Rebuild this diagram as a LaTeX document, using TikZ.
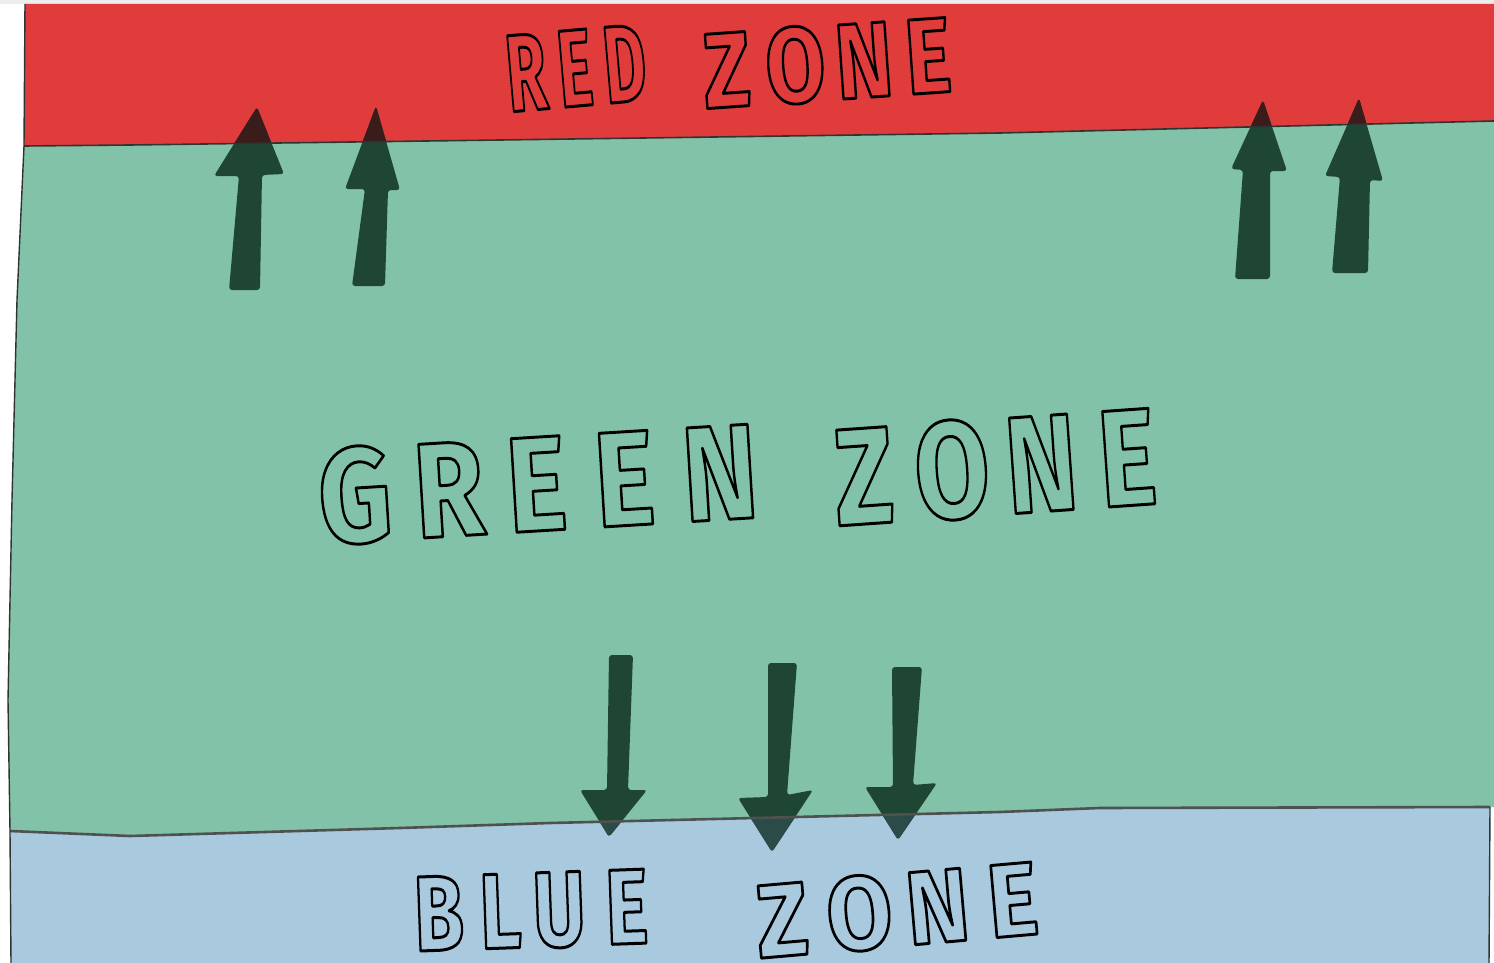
\documentclass[tikz,border=0pt]{standalone}
\usepackage{fontspec}
\usepackage{graphicx}
\newfontfamily\zonefont{Fira Sans}
\definecolor{zred}{HTML}{E03C3C}
\definecolor{zgreen}{HTML}{82C2A8}
\definecolor{zblue}{HTML}{A9C9DF}
\definecolor{zarrow}{HTML}{1E4632}
\definecolor{zarrowred}{HTML}{3A1C1A}
\definecolor{zarrowblue}{HTML}{2B4B48}
\definecolor{zline}{HTML}{2E3432}
\definecolor{ztop}{HTML}{EDEDED}
\tikzset{
  redshape/.style={insert path={(25,4) -- (1494,4) -- (1494,121) -- (1000,133) -- (500,140) -- (130,145) -- (24,146) -- cycle}},
  greenshape/.style={insert path={(24,146) -- (130,145) -- (500,140) -- (1000,133) -- (1494,121) -- (1494,807) -- (1100,808) -- (1000,812) -- (550,823) -- (400,828) -- (130,836) -- (10,831) -- (8,700) -- (12,500) -- (17,300) -- cycle}},
  blueshape/.style={insert path={(10,831) -- (130,836) -- (400,828) -- (550,823) -- (1000,812) -- (1100,808) -- (1490,807) -- (1489,963) -- (11,963) -- cycle}},
  arrA/.style={insert path={(229,290) -- (239,176) -- (214,176) -- (257,107) -- (284,174) -- (262,175) -- (260,290) -- cycle}},
  arrB/.style={insert path={(352,286) -- (365,189) -- (345,189) -- (376,106) -- (400,190) -- (388,190) -- (385,286) -- cycle}},
  arrC/.style={insert path={(1235,279) -- (1243,170) -- (1231,169) -- (1263,100) -- (1287,171) -- (1270,171) -- (1270,279) -- cycle}},
  arrD/.style={insert path={(1332,273) -- (1340,177) -- (1325,176) -- (1359,98) -- (1383,181) -- (1370,180) -- (1368,273) -- cycle}},
  arrE/.style={insert path={(609,655) -- (633,655) -- (628,790) -- (647,790) -- (609,837) -- (580,790) -- (607,790) -- cycle}},
  arrF/.style={insert path={(768,663) -- (797,663) -- (787,795) -- (813,790) -- (772,852) -- (738,798) -- (768,797) -- cycle}},
  arrG/.style={insert path={(892,667) -- (922,667) -- (913,785) -- (937,783) -- (898,840) -- (865,787) -- (893,787) -- cycle}},
  arrowbody/.style={rounded corners=3pt},
  border/.style={line width=1.6pt, draw=zline, line join=round},
  wordnode/.style={inner sep=0pt}
}
% one text per word: glyphs filled in the zone colour and stroked in black
\newcommand{\zoneword}[8]{%
  \node[wordnode, rotate=#3, text=#7] (#1) at (#2)
    {\zonefont\bfseries\fontsize{#8}{#8}\selectfont
     \special{pdf:literal direct 2 Tr 0 0 0 RG 3 w 1 j}%
     \resizebox{#4}{#5}{#6}%
     \special{pdf:literal direct 0 Tr}};
}
\begin{document}
\begin{tikzpicture}[x=1pt,y=-1pt]
\useasboundingbox (0,0) rectangle (1494,963);
\fill[white] (0,0) rectangle (1494,963);
\fill[ztop] (0,0) rectangle (1494,4);
\fill[zred, redshape];
\fill[zgreen, greenshape];
\fill[zblue, blueshape];
% arrows
\foreach \s in {arrA,arrB,arrC,arrD,arrE,arrF,arrG} {
  \fill[zarrow, arrowbody, \s];
}
\begin{scope}
  \clip[redshape];
  \foreach \s in {arrA,arrB,arrC,arrD} { \fill[zarrowred, arrowbody, \s]; }
\end{scope}
\begin{scope}
  \clip[blueshape];
  \foreach \s in {arrE,arrF,arrG} { \fill[zarrowblue, arrowbody, \s]; }
\end{scope}
% borders
\draw[border] (24,146) -- (130,145) -- (500,140) -- (1000,133) -- (1494,121);
\draw[border, line width=2.6pt, draw=zline!85] (10,831) -- (130,836) -- (400,828) -- (550,823) -- (1000,812) -- (1100,808) -- (1490,807);
\draw[border, line width=1.4pt] (25,4) -- (24,146) -- (17,300) -- (12,500) -- (8,700) -- (10,831) -- (11,963);
\draw[border, line width=1.4pt] (1490,807) -- (1489,963);
% words
\zoneword{red1}{576,68}{5}{140pt}{76pt}{R\kern0.18em E\kern0.18em D}{zred}{110}
\zoneword{red2}{827,63}{4}{248pt}{76pt}{Z\kern0.18em O\kern0.12em N\kern0.15em E}{zred}{110}
\zoneword{green1}{538,484}{3.5}{440pt}{96pt}{G\kern0.2em R\kern0.2em E\kern0.25em E\kern0.25em N}{zgreen}{139}
\zoneword{green2}{995,467}{4}{322pt}{98pt}{Z\kern0.2em O\kern0.15em N\kern0.2em E}{zgreen}{140}
\zoneword{blue1}{531,911}{2}{234pt}{74pt}{B\kern0.2em L\kern0.15em U\kern0.25em E}{zblue}{107}
\zoneword{blue2}{897,910}{5}{282pt}{74pt}{Z\kern0.2em O\kern0.15em N\kern0.2em E}{zblue}{107}
\end{tikzpicture}
\end{document}
